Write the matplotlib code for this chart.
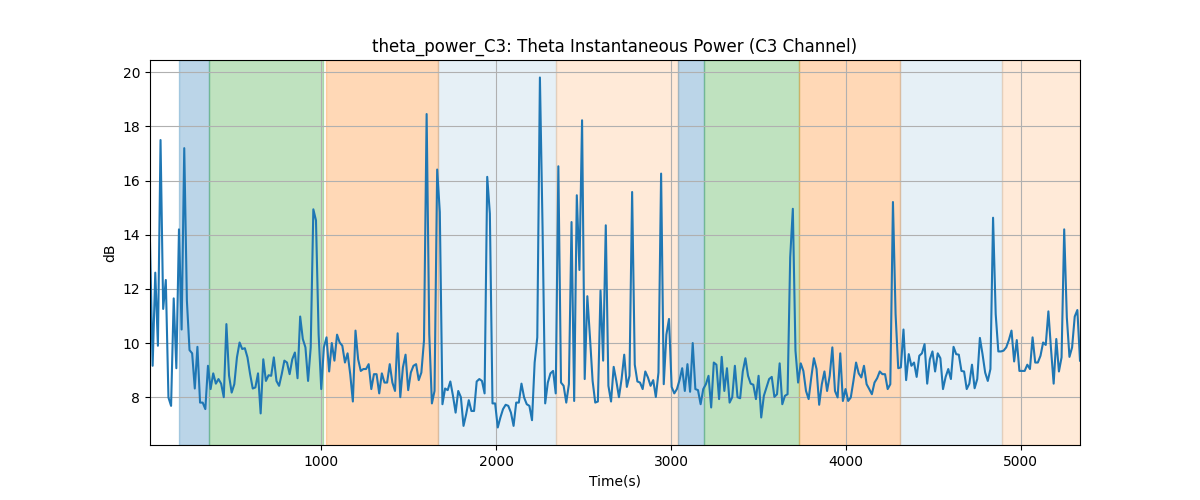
import numpy as np
from matplotlib import pyplot as plt

# 数据: C3 通道 theta 瞬时功率 (dB)
theta_db = [
    13.7, 9.16, 12.6, 9.9, 17.5, 11.26, 12.33, 7.99, 7.68, 11.65,
    9.07, 14.2, 10.5, 17.2, 11.57, 9.74, 9.62, 8.32, 9.86, 7.8,
    7.8, 7.56, 9.16, 8.3, 8.88, 8.5, 8.67, 8.5, 8.0, 10.7,
    8.8, 8.17, 8.48, 9.47, 10.02, 9.78, 9.81, 9.47, 8.85, 8.32,
    8.36, 8.88, 7.4, 9.4, 8.6, 8.81, 8.79, 9.47, 8.6, 8.42,
    8.85, 9.35, 9.28, 8.85, 9.4, 9.65, 8.7, 10.98, 10.15, 9.84,
    8.6, 9.84, 14.94, 14.53, 10.33, 8.3, 9.84, 10.21, 8.95, 10.0,
    9.35, 10.31, 10.02, 9.9, 9.28, 9.62, 8.85, 7.84, 10.46, 9.4,
    8.97, 9.04, 9.04, 9.22, 8.3, 8.85, 8.85, 8.14, 8.88, 8.54,
    8.54, 9.22, 8.54, 8.23, 10.36, 8.0, 9.1, 9.57, 8.26, 8.91,
    9.16, 9.22, 8.63, 8.91, 10.09, 18.46, 10.33, 7.77, 8.23, 16.41,
    14.84, 7.74, 8.32, 8.26, 8.58, 8.05, 7.43, 8.23, 8.0, 6.94,
    7.37, 7.89, 7.49, 7.49, 8.58, 8.67, 8.6, 8.14, 16.14, 14.78,
    7.77, 7.77, 6.88, 7.25, 7.56, 7.72, 7.68, 7.43, 6.94, 7.8,
    7.8, 8.5, 7.99, 7.74, 7.68, 7.15, 9.28, 10.21, 19.81, 14.28,
    7.77, 8.54, 8.88, 8.97, 8.14, 16.53, 8.54, 8.42, 7.8, 8.48,
    14.47, 7.86, 15.46, 12.7, 18.23, 8.67, 11.73, 10.21, 8.6, 7.8,
    7.84, 11.94, 9.35, 14.35, 8.42, 7.84, 9.12, 8.6, 8.0, 8.67,
    9.57, 8.38, 8.79, 15.58, 9.2, 8.58, 8.54, 8.3, 8.95, 8.73,
    8.42, 8.63, 8.01, 8.91, 16.26, 8.48, 10.31, 10.89, 8.38, 8.14,
    8.3, 8.63, 9.07, 8.23, 9.22, 8.2, 10.0, 8.3, 8.26, 7.74,
    8.3, 8.48, 8.79, 7.62, 9.28, 9.2, 7.93, 9.49, 8.23, 9.07,
    7.8, 8.0, 9.16, 8.0, 7.96, 8.95, 9.44, 8.79, 8.5, 8.46,
    7.93, 8.79, 7.25, 8.05, 8.36, 8.67, 8.75, 8.01, 8.11, 9.25,
    7.74, 8.05, 8.11, 13.17, 14.96, 9.72, 8.54, 9.25, 8.97, 8.23,
    7.93, 8.73, 9.44, 9.04, 7.72, 8.48, 8.95, 8.23, 8.79, 9.84,
    8.23, 7.99, 9.62, 7.86, 8.3, 7.86, 7.99, 8.6, 9.28, 8.88,
    8.73, 9.16, 8.48, 8.3, 8.11, 8.54, 8.7, 8.95, 8.85, 8.85,
    8.3, 8.48, 15.21, 11.07, 9.07, 9.1, 10.5, 8.63, 9.59, 9.16,
    9.28, 8.75, 9.53, 9.62, 9.96, 8.5, 9.4, 9.69, 8.95, 9.62,
    9.44, 8.3, 8.75, 9.04, 8.67, 9.86, 9.59, 9.57, 8.97, 8.95,
    8.3, 8.5, 9.2, 8.33, 8.67, 10.19, 9.59, 8.91, 8.6, 9.04,
    14.63, 11.07, 9.69, 9.69, 9.72, 9.84, 10.11, 10.46, 9.32, 10.11,
    8.97, 8.97, 8.97, 9.2, 9.04, 10.21, 9.28, 9.28, 9.53, 10.02,
    9.93, 11.17, 9.78, 8.5, 10.15, 8.95, 9.47, 14.2, 10.95, 9.49,
    9.84, 10.98, 11.22, 9.35,
]
t_start = 20
t_end = 5340

# 各阶段区间 (起, 止, 颜色, 透明度)
phase_start = [187, 359, 1027, 1666, 2340, 3040, 3189, 3732, 4313, 4894]
phase_end = [359, 1010, 1666, 2340, 3040, 3189, 3732, 4313, 4894, 5340]
phase_color = ['tab:blue', 'tab:green', 'tab:orange', 'tab:blue', 'tab:orange',
               'tab:blue', 'tab:green', 'tab:orange', 'tab:blue', 'tab:orange']
phase_alpha = [0.3, 0.3, 0.3, 0.11, 0.16, 0.3, 0.3, 0.3, 0.11, 0.16]

times = np.linspace(t_start, t_end, len(theta_db))

fig, ax = plt.subplots(figsize=(12, 5))

for s, e, c, a in zip(phase_start, phase_end, phase_color, phase_alpha):
    ax.axvspan(s, e, color=c, alpha=a)

ax.plot(times, theta_db, color='tab:blue', linewidth=1.5)

ax.set_xlim(times[0], times[-1])
ax.set_title('theta_power_C3: Theta Instantaneous Power (C3 Channel)')
ax.set_xlabel('Time(s)')
ax.set_ylabel('dB')
ax.grid(True)

plt.savefig('out.png', dpi=100)
